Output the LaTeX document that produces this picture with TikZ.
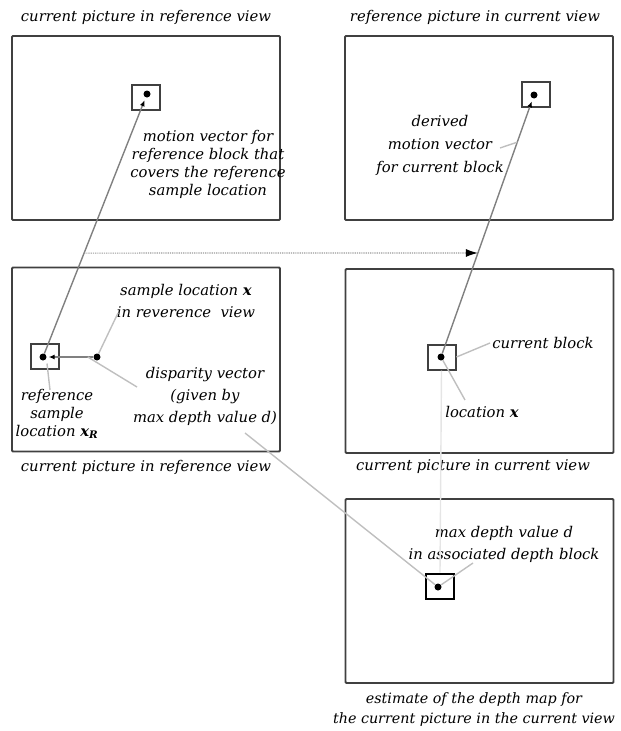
\documentclass[tikz,border=0pt]{standalone}
\usepackage{fontspec}
\setmainfont{DejaVu Serif}
\usepackage{tikz}
\usetikzlibrary{arrows.meta,positioning,calc}

\begin{document}
\begin{tikzpicture}[
    x=1pt, y=-1pt,
    frame/.style={
        draw=black!75,
        line width=1.8pt,
        rounded corners=1pt,
        minimum width=268pt,
        minimum height=184pt,
        inner sep=0pt
    },
    block/.style={draw=black!75, line width=2pt, minimum width=28pt, minimum height=25pt, inner sep=0pt},
    dot/.style={circle, fill=black, minimum size=7pt, inner sep=0pt},
    lbl/.style={font=\fontsize{14.8}{18}\selectfont\itshape, align=center, inner sep=0pt},
    mvec/.style={draw=black!50, line width=1.4pt, -{Latex[length=6pt,width=5pt,color=black]}, shorten >=3pt},
    lead/.style={draw=black!25, line width=1.4pt},
    faint/.style={draw=black!10, line width=1.4pt}
]
\useasboundingbox (0,0) rectangle (621,731);

% ---------------- Pictures ----------------
\node[frame] (picCurRef) at (146,128) {};
\node[frame] (picRefCur) at (479,128) {};
\node[frame] (picCurRefB) at (146,359.5) {};
\node[frame] (picCurCur) at (479.5,361) {};
\node[frame] (picDepth) at (479.5,591) {};

\node[lbl] (ttlCurRef) at (146,17) {current picture in reference view};
\node[lbl] (ttlRefCur) at (475,17) {reference picture in current view};
\node[lbl] (ttlCurRefB) at (146,467) {current picture in reference view};
\node[lbl] (ttlCurCur) at (473,467) {current picture in current view};
\node[lbl, font=\fontsize{14.3}{18}\selectfont\itshape] (ttlDepth) at (474,710)
    {estimate of the depth map for\\[2pt]the current picture in the current view};

% ---------------- Blocks and samples ----------------
\node[block] (blkRefMv) at (146,97) {};
\node[block] (blkDerived) at (536,94.5) {};
\node[block] (blkRefSmp) at (45,356) {};
\node[block] (blkCur) at (441.5,357) {};
\node[block, draw=black] (blkDepth) at (440,586) {};

\node[dot] (dRefMv) at (147,94) {};
\node[dot] (dDerived) at (534,95) {};
\node[dot] (dRefSmp) at (43,357) {};
\node[dot] (dSample) at (97,357) {};
\node[dot] (dCur) at (441,357) {};
\node[dot] (dDepth) at (438,587) {};

% ---------------- Vectors ----------------
\draw[mvec] (dRefSmp) -- (dRefMv);
\draw[mvec] (dCur) -- (dDerived);
\draw[mvec, shorten >=2pt] (dSample) -- (dRefSmp);

\coordinate (mvA) at ($(dRefSmp)!0.395!(dRefMv)$);
\coordinate (mvB) at ($(dCur)!0.397!(dDerived)$);
\draw[draw=black!40, densely dotted, line width=1.2pt, -{Latex[length=12pt,width=8pt,color=black]}]
    (mvA) -- (mvB);

% ---------------- Labels ----------------
\node[lbl] (txtRefMv) at (208,164) {motion vector for\\reference block that\\covers the reference\\sample location};
\node[lbl] (txtDerived) at (440,145) {derived\\[5pt]motion vector\\[5pt]for current block};
\node[lbl] (txtSample) at (186,301) {sample location \textbf{x}\\[4pt]in reverence\ \ view};
\node[lbl] (txtDisp) at (205,396) {disparity vector\\[4pt](given by\\[4pt]max depth value \textit{d})};
\node[lbl] (txtRefSmp) at (57,414) {reference\\sample\\location \textbf{x}\textsubscript{\textbf{R}}};
\node[lbl] (txtCurBlk) at (543,343) {current block};
\node[lbl] (txtLoc) at (482,412) {location \textbf{x}};
\node[lbl] (txtMaxD) at (504,544) {max depth value \textit{d}\\[4pt]in associated depth block};

% ---------------- Leaders ----------------
\coordinate (ldSample) at (118,313);
\coordinate (ldDispA) at ($(dRefSmp)!0.83!(dSample)$);
\coordinate (ldDispB) at (137,387);
\coordinate (ldRefSmp) at (50,390);
\coordinate (ldDispC) at (245,433);
\coordinate (ldDerived) at (500,148);
\coordinate (ldDerivedB) at ($(dCur)!0.82!(dDerived)$);
\coordinate (ldCurBlk) at (490,343);
\coordinate (ldLoc) at (465,400);
\coordinate (ldMaxD) at (473,563);

\draw[lead] (ldSample) -- (dSample);
\draw[lead] (ldDispA) -- (ldDispB);
\draw[lead] (blkRefSmp.south) ++(2,-6) -- (ldRefSmp);
\draw[lead] (ldDispC) -- (dDepth);
\draw[lead] (ldDerived) -- (ldDerivedB);
\draw[lead] (blkCur.east) -- (ldCurBlk);
\draw[lead] (dCur) -- (ldLoc);
\draw[lead] (dDepth) -- (ldMaxD);
\draw[faint] (blkCur.south) -- (blkDepth.north);

\end{tikzpicture}
\end{document}
